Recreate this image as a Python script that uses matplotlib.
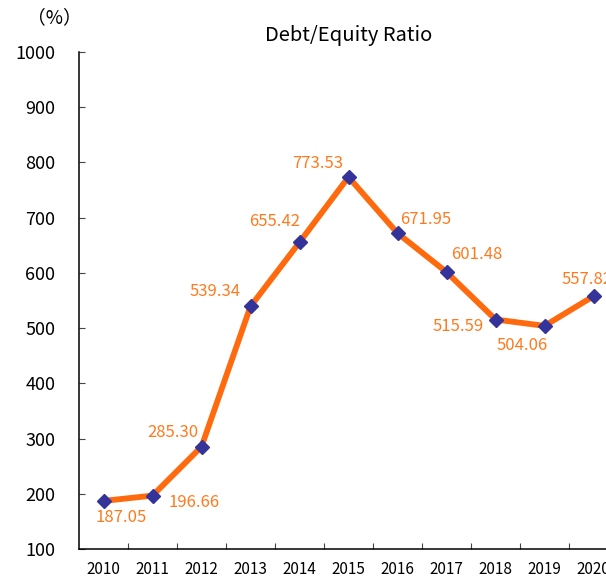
import matplotlib
matplotlib.use('Agg')
import matplotlib.pyplot as plt

plt.rcParams['font.family'] = ['Noto Sans CJK JP', 'DejaVu Sans']

years = ['2010', '2011', '2012', '2013', '2014', '2015', '2016', '2017', '2018', '2019', '2020']
ratio = [187.05, 196.66, 285.30, 539.34, 655.42, 773.53, 671.95, 601.48, 515.59, 504.06, 557.82]

# label offsets in pixels relative to each point
label_offsets = [(18, -17), (42, -7), (-29, 14), (-35, 15), (-25, 21), (-31, 14),
                 (28, 14), (30, 18), (-37, -7), (-22, -20), (-6, 17)]

LINE = '#FF6A0E'
MARK = '#333399'
TEXT_ORANGE = '#FF7A1E'

fig = plt.figure(figsize=(6.06, 5.79), dpi=100)
W, H = 606, 579
ax = fig.add_axes([79 / W, 30 / H, 539 / W, 497 / H])

x = list(range(len(years)))
ax.plot(x, ratio, color=LINE, linewidth=4.2, marker='D', markersize=7,
        markerfacecolor=MARK, markeredgecolor=MARK, zorder=3, clip_on=False)

for xi, v, (dx, dy) in zip(x, ratio, label_offsets):
    ax.annotate(f"{v:.2f}", (xi, v), xytext=(dx, dy), textcoords='offset pixels',
                ha='center', va='center', color=TEXT_ORANGE, fontsize=12)

ax.set_xlim(-0.5, len(years) - 0.5)
ax.set_ylim(100, 1000)
ax.set_yticks(range(100, 1001, 100))
ax.set_xticks([i + 0.5 for i in range(len(years))])
ax.set_xticklabels([])
ax.set_xticks(x, minor=True)
ax.set_xticklabels(years, minor=True, fontsize=11)
ax.tick_params(axis='x', which='minor', length=0, pad=9)
ax.tick_params(axis='x', which='major', direction='in', length=4, color='#444444')
ax.tick_params(axis='y', direction='in', length=4, color='#444444', labelsize=13, pad=17)

for s in ['top', 'right']:
    ax.spines[s].set_visible(False)
for s in ['left', 'bottom']:
    ax.spines[s].set_linewidth(1.1)

ax.set_title('Debt/Equity Ratio', fontsize=14.5, pad=8)
fig.text(54 / W, 1 - 18 / H, '（%）', ha='center', va='center', fontsize=13.5)

plt.savefig('out.png', dpi=100)
plt.close()
